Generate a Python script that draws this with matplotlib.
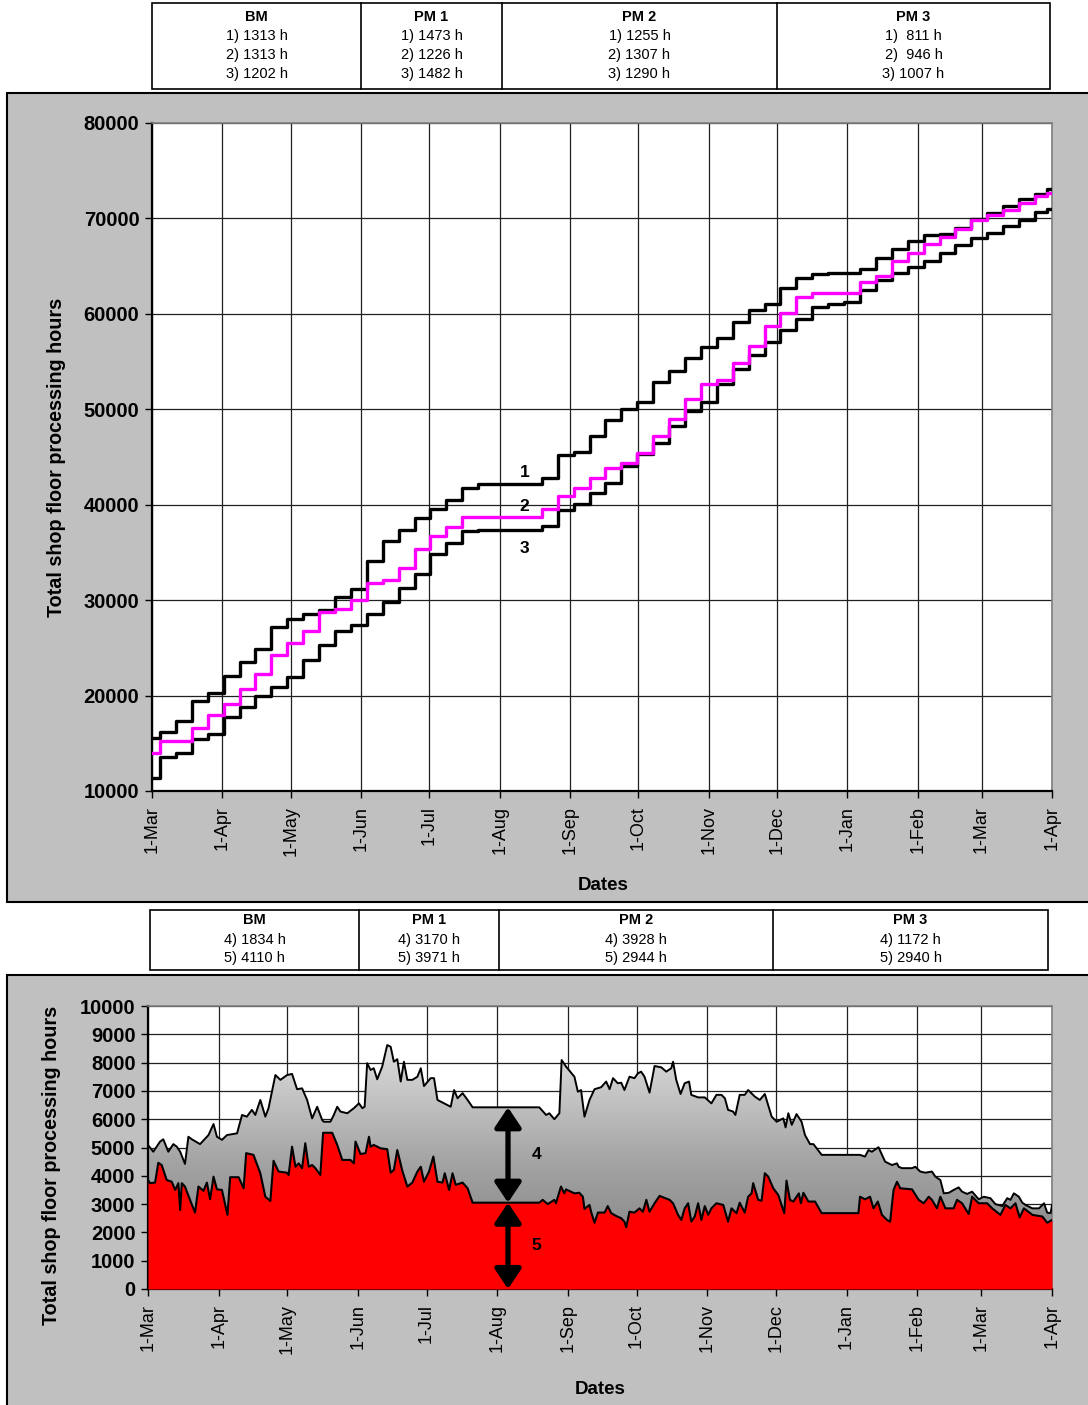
import numpy as np
import matplotlib
matplotlib.use("Agg")
import matplotlib.pyplot as plt
from matplotlib.patches import Rectangle
from matplotlib.lines import Line2D
from matplotlib.colors import LinearSegmentedColormap

plt.rcParams['font.family'] = ['Liberation Sans', 'DejaVu Sans']

W, H = 1088, 1405

# ---- data -------------------------------------------------------------
month_days = [0, 31, 61, 92, 122, 153, 184, 214, 245, 275, 306, 337, 365, 396]
month_labels = ['1-Mar', '1-Apr', '1-May', '1-Jun', '1-Jul', '1-Aug', '1-Sep',
                '1-Oct', '1-Nov', '1-Dec', '1-Jan', '1-Feb', '1-Mar', '1-Apr']

# cumulative hours, weekly samples
week_days = list(range(0, 393, 7)) + [396]
cum_1 = [15520, 16200, 17300, 19400, 20250, 22000, 23500, 24900, 27200, 28000,
         28600, 29000, 30300, 31200, 34100, 36200, 37300, 38580, 39500, 40500,
         41800, 42140, 42140, 42140, 42140, 42750, 45210, 45500, 47200, 48880,
         50000, 50800, 52900, 54000, 55400, 56500, 57500, 59100, 60400, 61000,
         62700, 63800, 64200, 64260, 64260, 64700, 65900, 66800, 67600, 68270,
         68400, 69000, 69900, 70600, 71300, 72000, 72600, 73100]
cum_2 = [13950, 15270, 15270, 16550, 17950, 19120, 20650, 22260, 24250, 25540,
         26800, 28790, 29050, 30020, 31760, 32110, 33400, 35410, 36700, 37700,
         38700, 38720, 38720, 38720, 38720, 39500, 40900, 41700, 42800, 43800,
         44400, 45400, 47200, 49000, 51100, 52600, 53100, 54900, 56600, 58700,
         60100, 61750, 62220, 62220, 62220, 63300, 64000, 65500, 66400, 67300,
         68100, 68900, 69850, 70400, 70900, 71600, 72300, 72700]
cum_3 = [11330, 13600, 13950, 15400, 16000, 17800, 18800, 20000, 20900, 21900,
         23700, 25300, 26800, 27400, 28600, 29800, 31300, 32700, 34800, 36000,
         37200, 37350, 37350, 37350, 37350, 37800, 39400, 40100, 41200, 42300,
         44100, 45300, 46500, 48300, 49800, 50800, 52600, 54200, 55700, 57000,
         58300, 59500, 60700, 61000, 61280, 62500, 63500, 64300, 64900, 65500,
         66400, 67200, 68000, 68500, 69200, 69800, 70700, 71000]

# backlog, total (4 + 5)
total_days = [0, 2.3, 5.3, 6.7, 8.9, 11.1, 12.6, 14.1, 16.2, 17.7, 19.2, 22.8,
              26.5, 28.7, 30.2, 32.4, 34.6, 39.0, 41.2, 43.3, 45.5, 47.0, 49.2,
              51.4, 52.8, 55.8, 58.0, 60.9, 63.1, 65.3, 67.5, 69.7, 71.9, 74.1,
              76.3, 77.0, 79.9, 81.4, 82.9, 84.3, 87.3, 90.2, 92.4, 93.9, 94.9,
              96.0, 97.5, 98.9, 100.4, 102.6, 104.8, 106.3, 107.7, 109.2, 110.7,
              112.1, 113.6, 115.8, 118.0, 119.5, 120.9, 123.8, 125.3, 126.8,
              129.7, 132.6, 134.1, 135.6, 137.8, 140.0, 142.2, 171.4, 174.4,
              175.8, 178.0, 180.2, 181.2, 183.1, 186.8, 188.3, 189.7, 191.2,
              193.4, 195.6, 198.5, 200.7, 202.2, 203.7, 205.8, 207.3, 208.7,
              210.9, 213.1, 214.6, 216.0, 217.5, 219.7, 221.9, 224.9, 227.0,
              229.2, 230.0, 231.4, 233.3, 235.1, 237.0, 238.0, 241.0, 243.9,
              246.8, 249.0, 251.2, 252.7, 254.1, 256.3, 257.3, 259.2, 261.4,
              262.9, 265.8, 268.0, 270.2, 273.2, 275.4, 278.3, 279.3, 280.5,
              282.0, 284.1, 286.3, 287.8, 290.0, 291.5, 295.1, 311.9, 314.1,
              315.6, 317.1, 320.0, 322.9, 325.9, 328.1, 328.8, 330.3, 334.7,
              336.1, 338.3, 340.5, 343.4, 344.9, 347.1, 348.6, 350.8, 352.9,
              355.1, 356.6, 358.8, 361.0, 363.9, 366.1, 369.0, 371.2, 374.2,
              376.4, 377.8, 379.3, 381.5, 383.0, 384.4, 387.4, 390.3, 392.5,
              393.9, 395.4, 396]
total_hours = [5090, 4850, 5210, 5290, 4850, 5120, 5030, 4850, 4420, 5380, 5290,
               5120, 5440, 5830, 5380, 5270, 5440, 5500, 6150, 6090, 6330, 6150,
               6680, 6090, 6390, 7560, 7390, 7560, 7600, 7060, 7090, 6680, 6030,
               6440, 5970, 5910, 5910, 6150, 6440, 6270, 6210, 6390, 6560, 6390,
               6440, 7980, 7740, 7800, 7410, 7860, 8620, 8560, 8030, 8120, 7330,
               8030, 7390, 7390, 7500, 7800, 7170, 7450, 7450, 6680, 6560, 6440,
               7030, 6740, 6920, 6680, 6420, 6420, 6150, 6210, 6000, 6210, 8090,
               7860, 7500, 6970, 7030, 6090, 6680, 7060, 7130, 7330, 7060, 7450,
               7270, 7290, 7030, 7500, 7450, 7620, 7680, 7500, 6940, 7880, 7830,
               7680, 7800, 8030, 7390, 6890, 7270, 7330, 6860, 6770, 6770, 6560,
               6860, 6860, 6740, 6330, 6270, 6150, 6860, 6860, 7030, 6800, 6680,
               6890, 6090, 5910, 6030, 5710, 6210, 5800, 6180, 5910, 5440, 5120,
               5120, 4740, 4740, 4680, 4910, 4850, 5010, 4500, 4380, 4440, 4320,
               4270, 4270, 4320, 4150, 4110, 4150, 3970, 3850, 3380, 3400, 3500,
               3590, 3440, 3360, 3440, 3170, 3260, 3210, 3000, 2930, 3210, 3150,
               3380, 3260, 3050, 2970, 2850, 2850, 3030, 2700, 2680, 2970]

# backlog 5 (red)
red_days = [0, 0.9, 3.1, 4.5, 6.0, 8.2, 10.4, 11.9, 13.3, 14.1, 14.8, 16.2,
            18.4, 20.6, 22.1, 24.3, 25.8, 27.2, 28.7, 30.2, 32.4, 34.8, 36.0,
            39.7, 41.9, 43.0, 46.2, 49.2, 51.4, 53.6, 55.0, 57.2, 60.9, 61.6,
            63.1, 64.6, 66.0, 67.5, 68.9, 70.4, 71.9, 73.3, 75.5, 76.7, 80.7,
            82.9, 85.1, 88.7, 90.2, 90.9, 93.1, 95.3, 96.8, 97.5, 98.9, 101.9,
            104.8, 106.3, 107.7, 109.2, 111.4, 113.6, 115.8, 118.0, 119.5,
            120.9, 123.1, 125.0, 126.8, 129.0, 130.0, 131.9, 133.4, 134.8,
            137.8, 140.0, 142.2, 171.4, 172.9, 175.1, 178.0, 178.7, 180.9,
            182.4, 183.1, 186.8, 188.9, 190.5, 191.2, 193.4, 194.1, 195.6,
            197.1, 200.0, 201.4, 202.9, 205.1, 207.3, 208.7, 209.5, 210.9,
            213.1, 215.3, 216.8, 218.3, 219.7, 221.9, 224.1, 225.6, 228.5,
            230.0, 232.2, 233.6, 235.1, 236.6, 238.0, 239.5, 241.0, 242.4,
            243.9, 245.4, 246.8, 249.0, 252.0, 254.1, 255.6, 257.8, 259.2,
            261.4, 262.9, 264.4, 265.1, 267.3, 268.8, 270.2, 271.7, 273.9,
            276.1, 278.7, 279.7, 281.2, 282.7, 285.1, 286.0, 287.1, 289.3,
            292.2, 295.1, 311.2, 311.9, 314.1, 316.3, 317.8, 319.7, 321.5,
            323.7, 325.1, 326.6, 328.1, 329.5, 334.7, 337.6, 339.8, 342.0,
            343.4, 345.6, 347.1, 349.3, 352.9, 354.4, 356.6, 359.5, 361.0,
            363.9, 367.6, 369.8, 373.4, 375.6, 377.8, 380.0, 381.8, 383.7,
            387.4, 391.8, 393.9, 396]
red_hours = [3850, 3740, 3760, 4460, 4380, 3850, 3790, 3500, 3740, 2790, 3740,
             3620, 3150, 2700, 3620, 3470, 3760, 3170, 3970, 3520, 3500, 2620,
             3950, 3950, 3560, 4800, 4740, 4090, 3260, 3110, 4530, 4150, 4110,
             4030, 5030, 4320, 4440, 4270, 5150, 4320, 4380, 4270, 4030, 5520,
             5520, 5090, 4560, 4560, 4440, 5210, 4770, 4800, 5380, 5030, 5090,
             4970, 4940, 4110, 4210, 4910, 4180, 3620, 3760, 4150, 4320, 3790,
             4150, 4680, 3790, 3760, 4090, 3500, 4090, 3680, 3760, 3560, 3050,
             3050, 3150, 3000, 3150, 3030, 3620, 3380, 3520, 3380, 3400, 3260,
             2830, 2970, 2730, 2340, 2700, 2700, 2930, 2680, 2580, 2500, 2380,
             2180, 2730, 2700, 2850, 2730, 3150, 2730, 3030, 3290, 3240, 3150,
             3030, 2620, 2440, 2850, 3030, 2380, 2560, 3030, 2440, 2930, 2620,
             2850, 3030, 2970, 2380, 2850, 2680, 3050, 2700, 3260, 3380, 3740,
             3150, 3120, 4090, 3970, 3560, 3320, 2680, 3830, 3150, 3090, 3380,
             3030, 3400, 3090, 3090, 2680, 2680, 3260, 3170, 3260, 2850, 3090,
             2620, 2440, 2380, 3500, 3790, 3560, 3520, 3150, 3030, 3260, 3150,
             2850, 3260, 2850, 2850, 3150, 3030, 2650, 3260, 3030, 3030, 2850,
             2620, 2970, 2850, 3030, 2530, 2850, 2620, 2560, 2340, 2440]

groups = ['BM', 'PM 1', 'PM 2', 'PM 3']
top_rows = [['1) 1313 h', '2) 1313 h', '3) 1202 h'],
            ['1) 1473 h', '2) 1226 h', '3) 1482 h'],
            ['1) 1255 h', '2) 1307 h', '3) 1290 h'],
            ['1)  811 h', '2)  946 h', '3) 1007 h']]
bottom_rows = [['4) 1834 h', '5) 4110 h'],
               ['4) 3170 h', '5) 3971 h'],
               ['4) 3928 h', '5) 2944 h'],
               ['4) 1172 h', '5) 2940 h']]


# ---- helpers ----------------------------------------------------------
def fx(px):
    return px / W


def fy(py):
    return 1 - py / H


def draw_table(fig, left, right, top, bottom, dividers, header_y, row_ys, rows):
    fig.patches.append(Rectangle((fx(left), fy(bottom)), fx(right - left),
                                 (bottom - top) / H, transform=fig.transFigure,
                                 facecolor='white', edgecolor='black', lw=1.2))
    edges = [left] + dividers + [right]
    for d in dividers:
        fig.lines.append(Line2D([fx(d), fx(d)], [fy(top), fy(bottom)],
                                transform=fig.transFigure, color='black', lw=1.2))
    for i, name in enumerate(groups):
        cx = fx((edges[i] + edges[i + 1]) / 2)
        fig.text(cx, fy(header_y), name, ha='center', va='center',
                 fontsize=10.5, fontweight='bold')
        for ry, txt in zip(row_ys, rows[i]):
            fig.text(cx, fy(ry), txt, ha='center', va='center', fontsize=10.5)


def style_axes(ax):
    ax.set_xlim(0, 396)
    ax.set_xticks(month_days)
    ax.set_xticklabels(month_labels, rotation=90, fontsize=13)
    ax.grid(True, color='#202020', lw=0.9)
    ax.set_axisbelow(True)
    for s in ['left', 'bottom']:
        ax.spines[s].set_linewidth(1.6)
        ax.spines[s].set_color('black')
    for s in ['top', 'right']:
        ax.spines[s].set_linewidth(1.2)
        ax.spines[s].set_color('#808080')
    ax.tick_params(axis='both', direction='out', length=5, width=1, colors='black')
    ax.tick_params(axis='x', pad=6)
    ax.tick_params(axis='y', pad=4, labelsize=14.5)
    for lab in ax.get_yticklabels():
        lab.set_fontweight('bold')


fig = plt.figure(figsize=(W / 100, H / 100), dpi=100)

# grey panels, behind the axes
fig.patches.append(Rectangle((fx(7), fy(902)), 1.0, (902 - 93) / H,
                             transform=fig.transFigure, facecolor='#c0c0c0',
                             edgecolor='black', lw=1.5, zorder=-5))
fig.patches.append(Rectangle((fx(7), fy(1420)), 1.0, (1420 - 975) / H,
                             transform=fig.transFigure, facecolor='#c0c0c0',
                             edgecolor='black', lw=1.5, zorder=-5))

draw_table(fig, 152, 1050, 3, 89, [361, 502, 777], 17, [36, 55, 74], top_rows)
draw_table(fig, 150, 1048, 910, 970, [359, 499, 773], 920, [940, 958], bottom_rows)

# ---- top chart --------------------------------------------------------
ax1 = fig.add_axes([fx(152), fy(791), 900 / W, 668 / H])
ax1.plot(week_days, cum_1, color='black', lw=2.4, drawstyle='steps-mid', zorder=3)
ax1.plot(week_days, cum_3, color='black', lw=2.4, drawstyle='steps-mid', zorder=3)
ax1.plot(week_days, cum_2, color='#ff00ff', lw=2.4, drawstyle='steps-mid', zorder=4)
ax1.set_ylim(10000, 80000)
ax1.set_yticks(range(10000, 80001, 10000))
style_axes(ax1)
ax1.text(164, 43400, '1', fontsize=12.5, fontweight='bold', ha='center', va='center')
ax1.text(164, 39800, '2', fontsize=12.5, fontweight='bold', ha='center', va='center')
ax1.text(164, 35400, '3', fontsize=12.5, fontweight='bold', ha='center', va='center')

fig.text(fx(57), fy(457), 'Total shop floor processing hours', rotation=90,
         ha='center', va='center', fontsize=14.2, fontweight='bold')
fig.text(fx(603), fy(886), 'Dates', ha='center', va='center', fontsize=13.5,
         fontweight='bold')

# ---- bottom chart -----------------------------------------------------
ax2 = fig.add_axes([fx(148), fy(1289), 904 / W, 283 / H])
grey = LinearSegmentedColormap.from_list('grey', ['#787878', '#a4a4a4', '#e2e2e2'])
poly = ax2.fill_between(total_days, 0, total_hours, facecolor='none',
                        edgecolor='none', zorder=2)
img = ax2.imshow(np.linspace(0, 1, 256).reshape(-1, 1), extent=[0, 396, 0, 9000],
                 origin='lower', aspect='auto', cmap=grey, zorder=2)
img.set_clip_path(poly.get_paths()[0], transform=ax2.transData)
ax2.fill_between(red_days, 0, red_hours, color='#ff0000', lw=0, zorder=3)
ax2.plot(total_days, total_hours, color='black', lw=1.4, zorder=4)
ax2.plot(red_days, red_hours, color='black', lw=1.5, zorder=4)
ax2.set_ylim(0, 10000)
ax2.set_yticks(range(0, 10001, 1000))
style_axes(ax2)

arrow = dict(arrowstyle='<|-|>,head_length=0.6,head_width=0.4', color='black',
             lw=3.8, mutation_scale=20, shrinkA=0, shrinkB=0)
ax2.annotate('', xy=(157.7, 6420), xytext=(157.7, 3050), arrowprops=arrow, zorder=5)
ax2.annotate('', xy=(157.7, 3050), xytext=(157.7, 0), arrowprops=arrow, zorder=5)
ax2.text(170, 4740, '4', fontsize=12.5, fontweight='bold', ha='center', va='center', zorder=6)
ax2.text(170, 1520, '5', fontsize=12.5, fontweight='bold', ha='center', va='center', zorder=6)

fig.text(fx(52), fy(1165), 'Total shop floor processing hours', rotation=90,
         ha='center', va='center', fontsize=14.2, fontweight='bold')
fig.text(fx(600), fy(1389), 'Dates', ha='center', va='center', fontsize=13.5,
         fontweight='bold')

fig.savefig('out.png', dpi=100)
